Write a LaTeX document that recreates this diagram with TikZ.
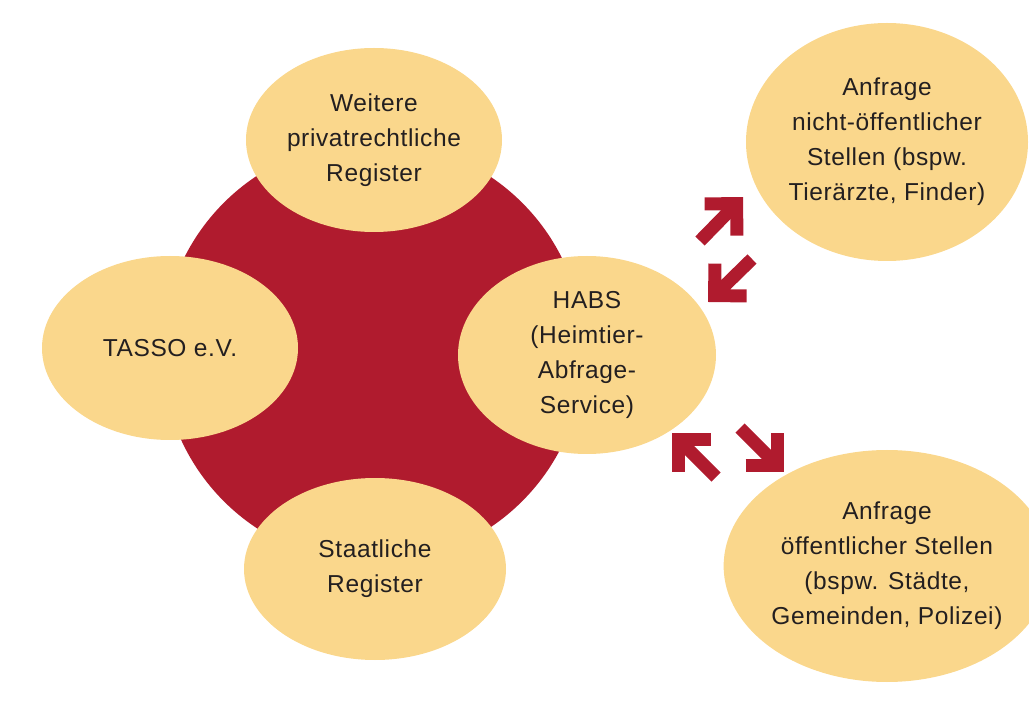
\documentclass[tikz,border=0pt]{standalone}
\usepackage{fontspec}
\setmainfont{Liberation Sans}[LetterSpace=2.5]
\usetikzlibrary{shapes.geometric,calc}

\definecolor{habsred}{HTML}{B01B2E}
\definecolor{habsyellow}{HTML}{FAD78C}
\definecolor{habstext}{HTML}{231F20}

\begin{document}
\begin{tikzpicture}[x=1pt,y=-1pt]
\tikzset{
  register/.style={ellipse,fill=habsyellow,draw=none,inner sep=0pt,align=center,
    text=habstext,font=\fontsize{24.5}{35}\selectfont},
  hub/.style={circle,fill=habsred,draw=none,inner sep=0pt},
  habsarrow/.style={draw=habsred,line width=13pt,line cap=butt}
}
\useasboundingbox (0,0) rectangle (1029,711);
% red ring behind the registers
\node[hub,minimum size=422pt] (n_hub) at (373,352) {};
\node[register,minimum width=256pt,minimum height=184pt] (n_weitere) at (374,140) {Weitere\\privatrechtliche\\Register};
\node[register,minimum width=256pt,minimum height=184pt] (n_tasso) at (170,348) {TASSO e.V.};
\node[register,minimum width=258pt,minimum height=198pt] (n_habs) at (587,355) {HABS\\(Heimtier-\\Abfrage-\\Service)};
\node[register,minimum width=262pt,minimum height=182pt] (n_staat) at (375,569) {Staatliche\\Register};
\node[register,minimum width=282pt,minimum height=238pt] (n_priv) at (887,142) {Anfrage\\nicht-öffentlicher\\Stellen (bspw.\\Tierärzte, Finder)};
\node[register,minimum width=296pt,minimum height=232pt] (n_oeff) at (887,566) {Anfrage\\öffentlicher Stellen\\(bspw. Städte,\\Gemeinden, Polizei)};
% request arrows between HABS and the enquirers
\coordinate (a1_tail) at (700,241);
\coordinate (a1_tip) at (743,197);
\coordinate (a2_tail) at (752,259);
\coordinate (a2_tip) at (708,302);
\coordinate (a3_tail) at (716,477);
\coordinate (a3_tip) at (672,433);
\coordinate (a4_tail) at (740,428);
\coordinate (a4_tip) at (784,472);
\foreach \t/\h in {a1_tail/a1_tip,a2_tail/a2_tip,a3_tail/a3_tip,a4_tail/a4_tip} {
  \coordinate (corner) at ($(\h)!9.2pt!(\t)$);
  \draw[habsarrow] (\t) -- (corner);
  \draw[habsarrow,line join=miter] ($(corner)!32pt!45:(\t)$) -- (corner) -- ($(corner)!32pt!-45:(\t)$);
}
\end{tikzpicture}
\end{document}
